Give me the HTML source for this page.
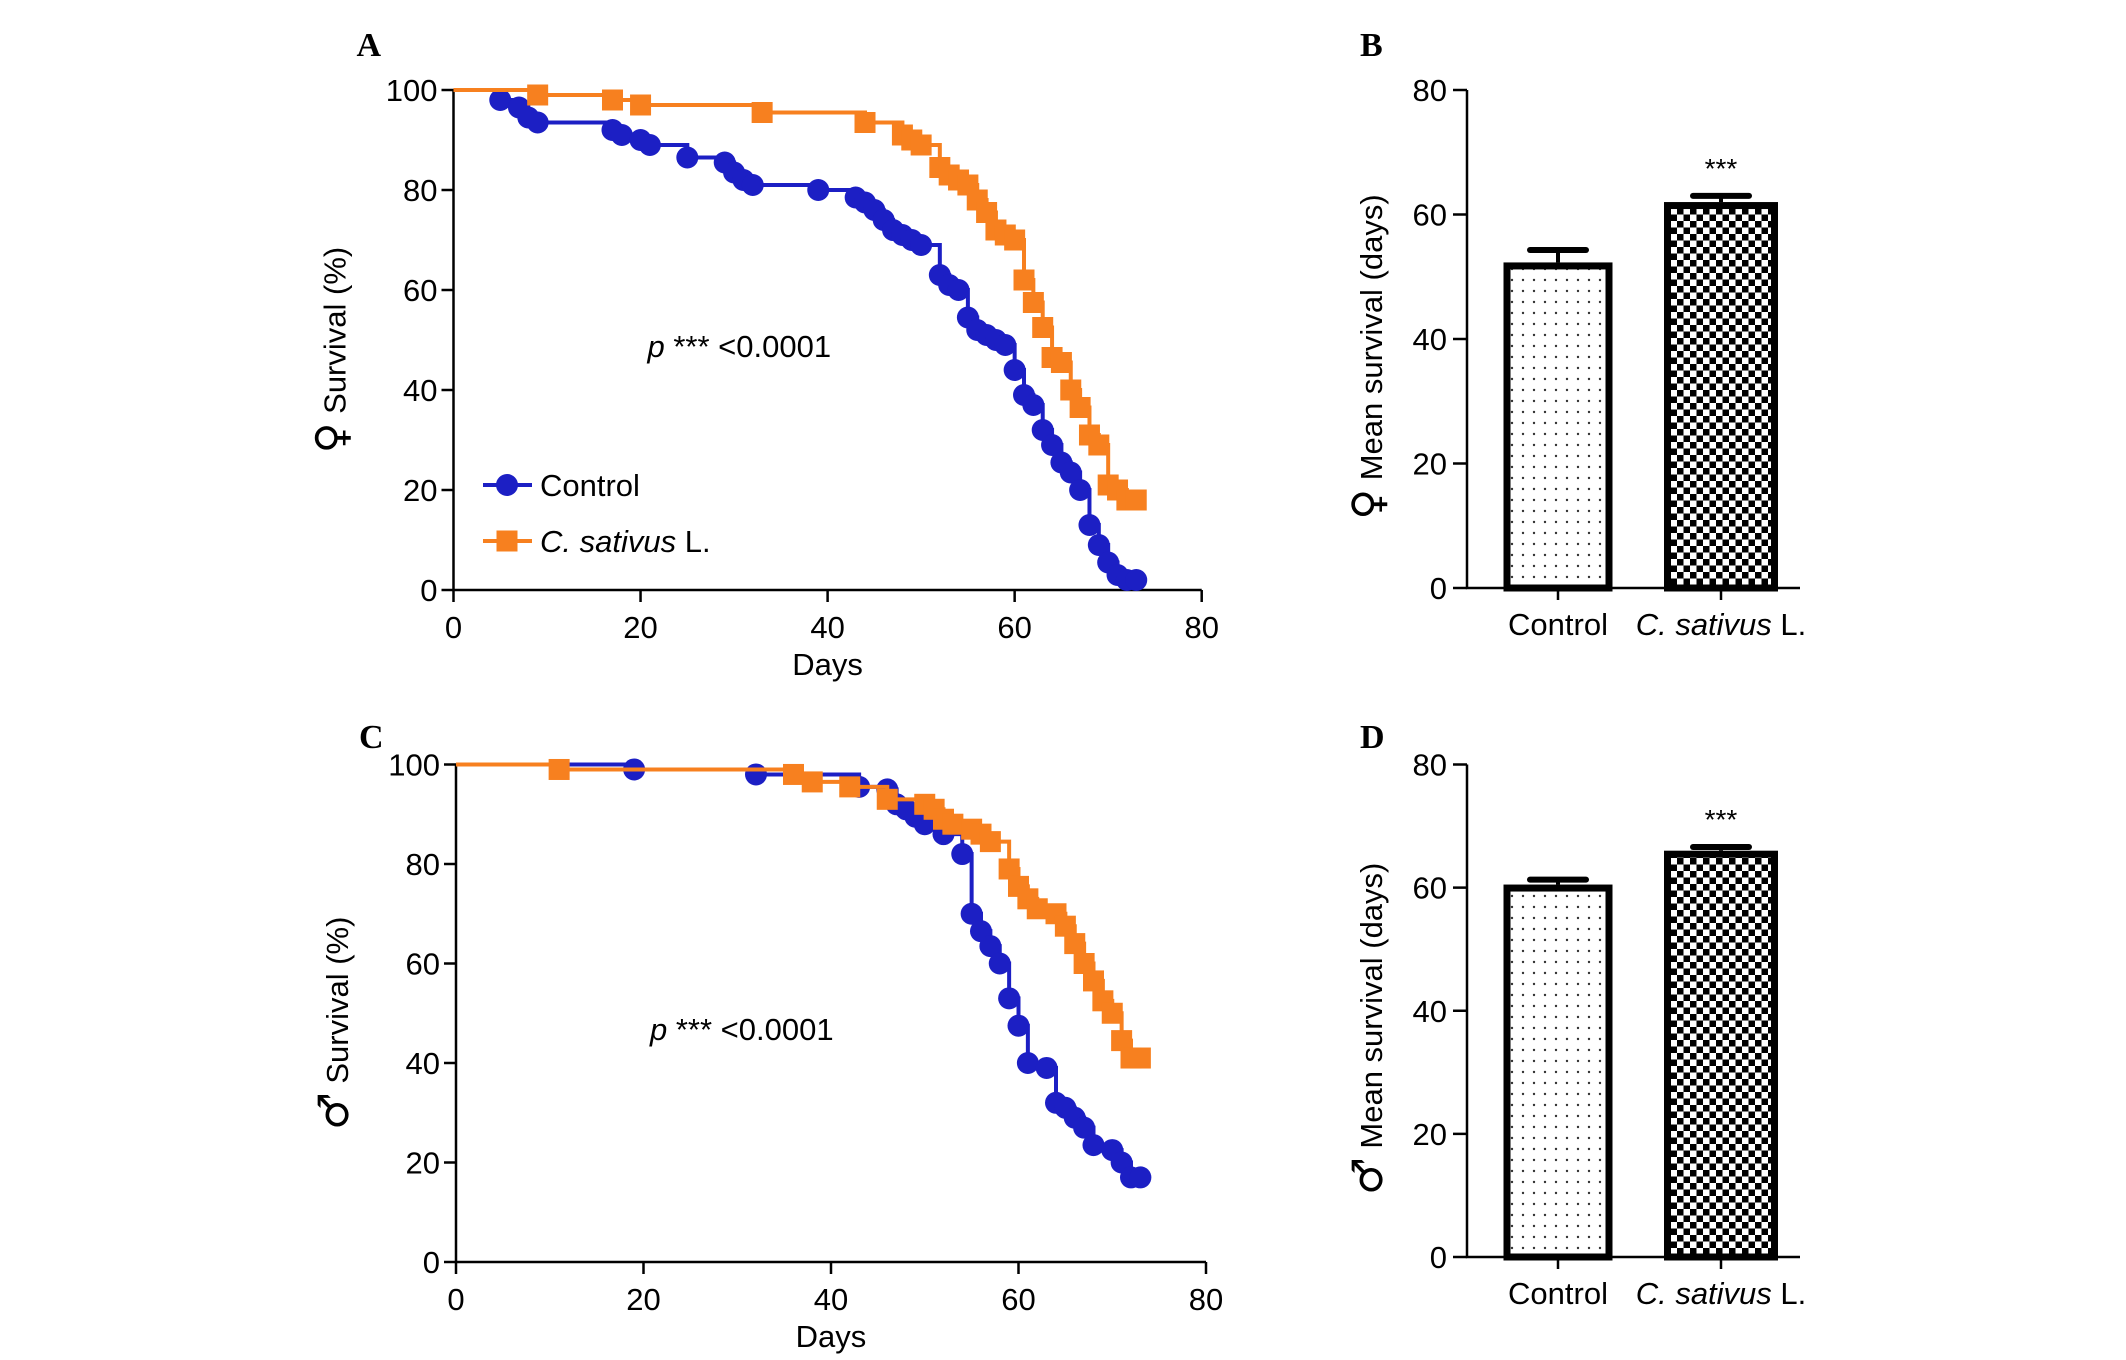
<!DOCTYPE html>
<html><head><meta charset="utf-8"><style>
html,body{margin:0;padding:0;background:#fff;}
svg{display:block;font-family:"Liberation Sans",Arial,sans-serif;}
</style></head><body>
<svg id="fig" width="2126" height="1360" viewBox="0 0 2126 1360" xmlns="http://www.w3.org/2000/svg">
<defs>
<pattern id="dots" width="11" height="11" patternUnits="userSpaceOnUse"><rect width="11" height="11" fill="#fff"/><circle cx="5" cy="5" r="1.2" fill="#333"/></pattern>
<pattern id="checker" width="13" height="13" patternUnits="userSpaceOnUse"><rect width="13" height="13" fill="#fff"/><rect width="6.5" height="6.5" fill="#000"/><rect x="6.5" y="6.5" width="6.5" height="6.5" fill="#000"/></pattern>
</defs>
</svg>
<script>
// ===== Data =====
const kmXTicks = [0,20,40,60,80];
const kmYTicks = [0,20,40,60,80,100];
const barYTicks = [0,20,40,60,80];
const barCategories = ['Control','C. sativus L.'];

const aControlDays = [5,7,8,9,17,18,20,21,25,29,30,31,32,39,43,44,45,46,47,48,49,50,52,53,54,55,56,57,58,59,60,61,62,63,64,65,66,67,68,69,70,71,72,73];
const aControlSurv = [98,96.5,94.5,93.5,92,91,90,89,86.5,85.5,83.5,82,81,80,78.5,77.5,76,74,72,71,70,69,63,61,60,54.5,52,51,50,49,44,39,37,32,29,25.5,23.5,20,13,9,5.5,3,2,2];
const aSativusDays = [9,17,20,33,44,48,49,50,52,53,54,55,56,57,58,59,60,61,62,63,64,65,66,67,68,69,70,71,72,73];
const aSativusSurv = [99,98,97,95.5,93.5,91,90,89,84.5,83,82,81,78,75.5,72,71,70,62,57.5,52.5,46.5,45.5,40,36.5,31,29,21,20,18,18];

const cControlDays = [19,32,43,46,47,48,49,50,52,54,55,56,57,58,59,60,61,63,64,65,66,67,68,70,71,72,73];
const cControlSurv = [99,98,95.5,95,92,91,89.5,88,86,82,70,66.5,63.5,60,53,47.5,40,39,32,31,29,27,23.5,22.5,20,17,17];
const cSativusDays = [11,36,38,42,46,50,51,52,53,55,56,57,59,60,61,62,64,65,66,67,68,69,70,71,72,73];
const cSativusSurv = [99,98,96.5,95.5,93,92,91,89,88,87,86,84.5,79,75.5,73,71,70,67.5,64,60,56.5,52.5,50,44.5,41,41];

const bMeans = [52.3,62];
const bErrTop = [54.3,63];
const dMeans = [60.5,66];
const dErrTop = [61.3,66.6];

// ===== Drawing =====
const svg = document.getElementById('fig');
const NS = 'http://www.w3.org/2000/svg';
const BLUE = '#1c1fc4', ORANGE = '#f7801f';
function mk(tag, attrs, parent){const e=document.createElementNS(NS,tag);for(const k in attrs)e.setAttribute(k,attrs[k]);(parent||svg).appendChild(e);return e;}
function txt(s, attrs, parent){const e=mk('text',attrs,parent);e.textContent=s;return e;}
const SYM = s => `<tspan font-family="DejaVu Sans, sans-serif" font-size="42">${s}</tspan>`;

function kmPanel(id, x0, x1, y0, y1, series, pY, sym, letterY){
  const g = mk('g',{});
  
  
  const sx = v => x0 + (x1-x0)*v/80;
  const sy = v => y0 - (y0-y1)*v/100;
  const ax = mk('path',{d:`M${x0} ${y1}V${y0}H${x1}`,stroke:'#000','stroke-width':2.5,fill:'none'},g);
  
  
  kmYTicks.forEach(t=>{
    mk('line',{x1:x0-12,x2:x0,y1:sy(t),y2:sy(t),stroke:'#000','stroke-width':2.5},g);
    const l=txt(String(t),{x:x0-16,y:sy(t)+11,'font-size':31,'text-anchor':'end'},g);
    
    
  });
  kmXTicks.forEach(t=>{
    mk('line',{x1:sx(t),x2:sx(t),y1:y0,y2:y0+12,stroke:'#000','stroke-width':2.5},g);
    const l=txt(String(t),{x:sx(t),y:y0+48,'font-size':31,'text-anchor':'middle'},g);
    
    
  });
  const xt=txt('Days',{x:(x0+x1)/2,y:y0+85,'font-size':31,'text-anchor':'middle'},g);
  
  
  const cy=(y0+y1)/2+10;
  const yt=mk('text',{x:0,y:0,'font-size':31,'text-anchor':'middle',transform:`translate(${x0-108},${cy}) rotate(-90)`},g);
  yt.innerHTML=SYM(sym)+' Survival (%)';
  
  
  const lt=txt(id.toUpperCase(),{x:x0-97,y:letterY,'font-size':34,'font-weight':'bold','font-family':'Liberation Serif, serif'},g);
  
  
  const pt=mk('text',{x:x0+194,y:pY,'font-size':31},g);
  
  
  pt.innerHTML='<tspan font-style="italic">p</tspan> *** &lt;0.0001';
  series.forEach(s=>{
    let d=`M${sx(0)} ${sy(100)}`;
    for(let i=0;i<s.days.length;i++){d+=`H${sx(s.days[i])}V${sy(s.surv[i])}`;}
    const p=mk('path',{d,stroke:s.color,'stroke-width':4,fill:'none'},g);
    
    
    for(let i=0;i<s.days.length;i++){
      let m;
      if(s.shape==='circle') m=mk('circle',{cx:sx(s.days[i]),cy:sy(s.surv[i]),r:11,fill:s.color},g);
      else m=mk('rect',{x:sx(s.days[i])-10.5,y:sy(s.surv[i])-10.5,width:21,height:21,fill:s.color},g);
      
      
    }
  });
  return {g,sx,sy};
}

kmPanel('a',453.5,1201.7,590,90,[
  {name:'control',days:aControlDays,surv:aControlSurv,color:BLUE,shape:'circle'},
  {name:'c-sativus',days:aSativusDays,surv:aSativusSurv,color:ORANGE,shape:'square'}],357,'♀',56);
// legend
const lg = mk('g',{});


const le1=mk('g',{},lg);


mk('line',{x1:483,x2:532,y1:485,y2:485,stroke:BLUE,'stroke-width':4},le1);
mk('circle',{cx:507,cy:485,r:11,fill:BLUE},le1);
txt('Control',{x:540,y:496,'font-size':31},le1);
const le2=mk('g',{},lg);


mk('line',{x1:483,x2:532,y1:541,y2:541,stroke:ORANGE,'stroke-width':4},le2);
mk('rect',{x:496.5,y:530.5,width:21,height:21,fill:ORANGE},le2);
const l2t=mk('text',{x:540,y:552,'font-size':31},le2);
l2t.innerHTML='<tspan font-style="italic">C. sativus</tspan> L.';

kmPanel('c',456,1206,1262,764.5,[
  {name:'control',days:cControlDays,surv:cControlSurv,color:BLUE,shape:'circle'},
  {name:'c-sativus',days:cSativusDays,surv:cSativusSurv,color:ORANGE,shape:'square'}],1040,'♂',748);

function barPanel(id, ax, axEnd, y0, y1, means, errs, sym, letterY){
  const g=mk('g',{});
  
  
  const sy=v=>y0-(y0-y1)*v/80;
  const a=mk('path',{d:`M${ax} ${y1}V${y0}H${axEnd}`,stroke:'#000','stroke-width':2.5,fill:'none'},g);
  
  
  barYTicks.forEach(t=>{
    mk('line',{x1:ax-14,x2:ax,y1:sy(t),y2:sy(t),stroke:'#000','stroke-width':2.5},g);
    const l=txt(String(t),{x:ax-20,y:sy(t)+11,'font-size':31,'text-anchor':'end'},g);
    
    
  });
  const centers=[1558,1721], widths=[109,114], fills=['url(#dots)','url(#checker)'];
  means.forEach((m,i)=>{
    const top=sy(m), cx=centers[i], w=widths[i];
    const e=mk('g',{},g);
    
    
    mk('line',{x1:cx,x2:cx,y1:top,y2:sy(errs[i]),stroke:'#000','stroke-width':4},e);
    mk('line',{x1:cx-28,x2:cx+28,y1:sy(errs[i]),y2:sy(errs[i]),stroke:'#000','stroke-width':6,'stroke-linecap':'round'},e);
    const b=mk('rect',{x:cx-w/2+3.5,y:top+3.5,width:w-7,height:y0-top-3.5,fill:fills[i],stroke:'#000','stroke-width':7},g);
    
    
    mk('line',{x1:cx,x2:cx,y1:y0,y2:y0+12,stroke:'#000','stroke-width':2.5},g);
    const l=mk('text',{x:cx,y:y0+47,'font-size':31,'text-anchor':'middle'},g);
    
    
    if(i===0) l.textContent=barCategories[0];
    else l.innerHTML='<tspan font-style="italic">C. sativus</tspan> L.';
  });
  const st=txt('***',{x:centers[1],y:sy(errs[1])-18,'font-size':28,'text-anchor':'middle'},g);
  
  
  const yt=mk('text',{x:0,y:0,'font-size':31,'text-anchor':'middle',transform:`translate(${ax-85},${(y0+y1)/2+18}) rotate(-90)`},g);
  yt.innerHTML=SYM(sym)+' Mean survival (days)';
  
  
  const lt=txt(id.toUpperCase(),{x:ax-107,y:letterY,'font-size':34,'font-weight':'bold','font-family':'Liberation Serif, serif'},g);
  
  
}
barPanel('b',1467,1800,588,90,bMeans,bErrTop,'♀',56);
barPanel('d',1467,1800,1257,764.5,dMeans,dErrTop,'♂',748);
</script>
</body></html>
